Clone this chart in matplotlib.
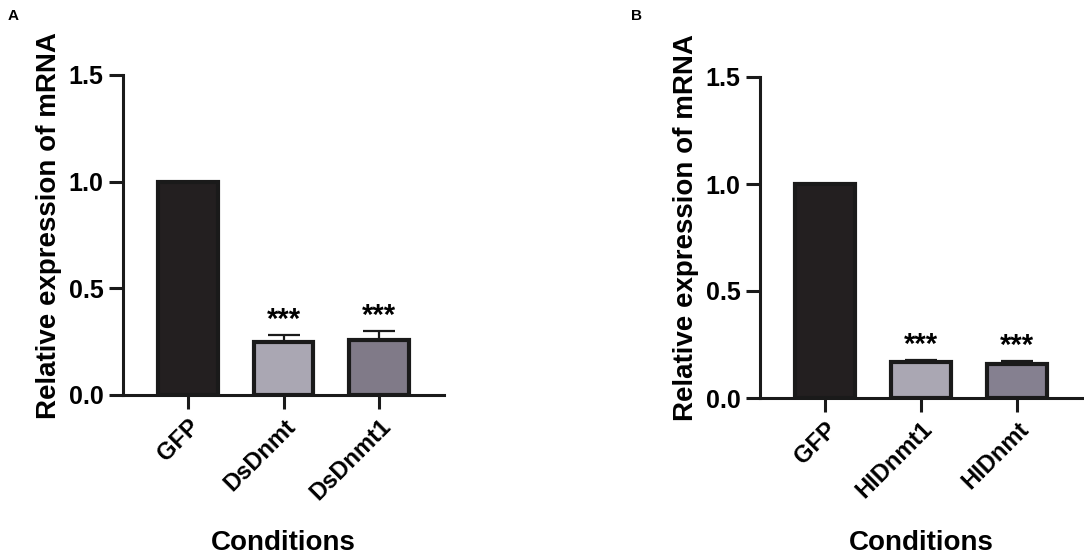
import matplotlib
matplotlib.use("Agg")
import matplotlib.pyplot as plt

plt.rcParams['font.family'] = ['Liberation Sans', 'DejaVu Sans']
plt.rcParams['font.weight'] = 'bold'

# Panel A data
cats_a = ["GFP", "DsDnmt", "DsDnmt1"]
vals_a = [1.0, 0.25, 0.26]
err_a = [0.0, 0.03, 0.04]
colors_a = ["#231f20", "#aaa7b3", "#807a88"]
stars_a = ["", "***", "***"]

# Panel B data
cats_b = ["GFP", "HIDnmt1", "HIDnmt"]
vals_b = [1.0, 0.17, 0.16]
err_b = [0.0, 0.007, 0.012]
colors_b = ["#231f20", "#aaa7b3", "#858090"]
stars_b = ["", "***", "***"]

yticks = [0.0, 0.5, 1.0, 1.5]
ylabel = "Relative expression of mRNA"
xlabel = "Conditions"

W, H = 1084, 557
fig = plt.figure(figsize=(W / 100, H / 100), dpi=100)


def panel(rect, cats, vals, errs, colors, stars, letter, letter_xy):
    ax = fig.add_axes(rect)
    x = list(range(len(cats)))
    ax.bar(x, vals, width=0.62, color=colors, edgecolor="#1a1a1a",
           linewidth=3.0, zorder=2)
    for xi, v, e in zip(x, vals, errs):
        if e > 0:
            ax.errorbar(xi, v, yerr=[[0], [e]], fmt='none', ecolor="#1a1a1a",
                        elinewidth=1.6, capsize=11.5, capthick=1.6, zorder=1)
    for xi, v, e, s in zip(x, vals, errs, stars):
        if s:
            ax.annotate(s, (xi, v + e), xytext=(0, 1), textcoords='offset points',
                        ha='center', va='bottom', fontsize=21, fontweight='bold')
    ax.set_xlim(-0.68, 2.68)
    ax.set_ylim(0, 1.5)
    ax.set_yticks(yticks)
    ax.set_yticklabels([f"{t:.1f}" for t in yticks], fontsize=18, fontweight='bold')
    ax.set_xticks(x)
    ax.set_xticklabels(cats, rotation=45, ha='right', rotation_mode='anchor',
                       fontsize=17, fontweight='bold')
    for sp in ['top', 'right']:
        ax.spines[sp].set_visible(False)
    for sp in ['left', 'bottom']:
        ax.spines[sp].set_linewidth(2.2)
        ax.spines[sp].set_color("#1a1a1a")
    ax.tick_params(axis='both', direction='out', length=10, width=2.2,
                   color="#1a1a1a", pad=4)
    ax.set_ylabel(ylabel, fontsize=20, fontweight='bold')
    ax.yaxis.set_label_coords(-0.19, 0.53)
    pos = ax.get_position()
    fig.text(pos.x0 + pos.width / 2, 1 - 543 / H, xlabel, fontsize=20,
             fontweight='bold', ha='center', va='center')
    fig.text(letter_xy[0], letter_xy[1], letter, fontsize=11, fontweight='bold',
             ha='left', va='center')
    return ax


def rect_from_px(l, r, top, bottom):
    return [l / W, 1 - bottom / H, (r - l) / W, (bottom - top) / H]


panel(rect_from_px(123, 444, 75, 395), cats_a, vals_a, err_a, colors_a, stars_a,
      "A", (8 / W, 1 - 16 / H))
panel(rect_from_px(760, 1082, 77, 398), cats_b, vals_b, err_b, colors_b, stars_b,
      "B", (631 / W, 1 - 16 / H))

fig.savefig("out.png", dpi=100)
